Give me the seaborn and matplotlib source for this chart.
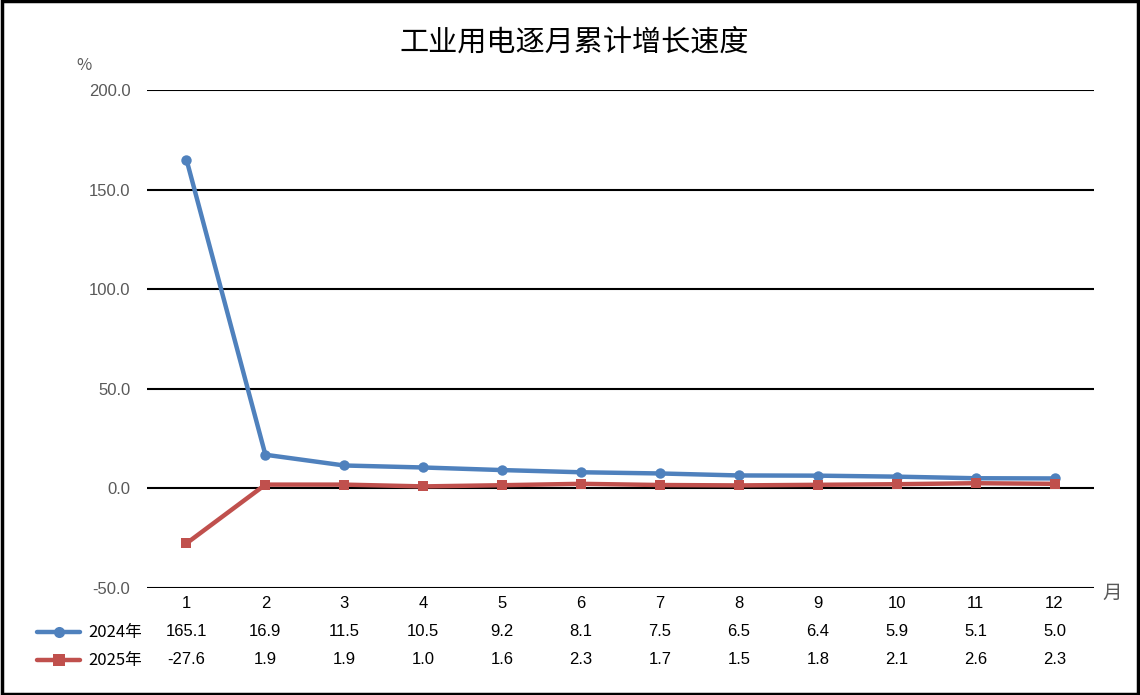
import pandas as pd
import seaborn as sns
import matplotlib.pyplot as plt
import matplotlib.transforms as mtransforms
from matplotlib.lines import Line2D
from matplotlib.patches import Rectangle

months = list(range(1, 13))
vals_2024 = [165.1, 16.9, 11.5, 10.5, 9.2, 8.1, 7.5, 6.5, 6.4, 5.9, 5.1, 5.0]
vals_2025 = [-27.6, 1.9, 1.9, 1.0, 1.6, 2.3, 1.7, 1.5, 1.8, 2.1, 2.6, 2.3]
series_names = ['2024年', '2025年']
colors = {'2024年': '#4F81BD', '2025年': '#C0504D'}
markers = {'2024年': 'o', '2025年': 's'}

df = pd.DataFrame({
    'month': months * 2,
    'value': vals_2024 + vals_2025,
    'series': [series_names[0]] * 12 + [series_names[1]] * 12,
})

sns.set_theme(style='white')
plt.rcParams['font.family'] = ['Noto Sans CJK SC', 'DejaVu Sans']

fig = plt.figure(figsize=(11.4, 6.95), dpi=100)
ax = fig.add_axes([147 / 1140, 1 - 588 / 695, (1094 - 147) / 1140, (588 - 90) / 695])

sns.lineplot(data=df, x='month', y='value', hue='series', style='series',
             palette=colors, markers=markers, dashes=False, linewidth=3.2,
             markersize=7.5, markeredgewidth=0, legend=False, ax=ax, zorder=3)

ax.set_xlim(0.5, 12.5)
ax.set_ylim(-50, 200)
ax.set_yticks([-50, 0, 50, 100, 150, 200])
ax.set_yticklabels([f'{v:.1f}' for v in [-50, 0, 50, 100, 150, 200]],
                   color='#595959', fontsize=12, family=['Liberation Sans', 'DejaVu Sans'])
ax.tick_params(axis='y', length=0, pad=12)
ax.set_xticks([])
ax.set_xlabel('')
ax.set_ylabel('')
for s in ax.spines.values():
    s.set_visible(False)
ax.yaxis.grid(True, color='black', linewidth=1.5)
ax.set_axisbelow(True)

# title and unit labels
fig.text(574 / 1140, 1 - 43 / 695, '工业用电逐月累计增长速度', ha='center', va='center',
         fontsize=21, color='black')
fig.text(84 / 1140, 1 - 66 / 695, '%', ha='center', va='center', fontsize=12, color='#595959')
fig.text(1112 / 1140, 1 - 593 / 695, '月', ha='center', va='center', fontsize=14, color='#595959')

# data table below axis
trans = mtransforms.blended_transform_factory(ax.transData, fig.transFigure)
row_y = [1 - 604 / 695, 1 - 632 / 695, 1 - 660 / 695]
tfont = dict(fontsize=12, color='black', ha='center', va='center',
             family=['Liberation Sans', 'DejaVu Sans'])
for m in months:
    ax.text(m, row_y[0], str(m), transform=trans, **tfont)
for vals, y in zip([vals_2024, vals_2025], row_y[1:]):
    for m, v in zip(months, vals):
        ax.text(m, y, f'{v:.1f}', transform=trans, **tfont)

for name, y in zip(series_names, row_y[1:]):
    fig.add_artist(Line2D([37 / 1140, 80 / 1140], [y, y], color=colors[name], linewidth=3.2,
                          solid_capstyle='round', transform=fig.transFigure))
    fig.add_artist(Line2D([58.5 / 1140], [y], color=colors[name], marker=markers[name],
                          markersize=8, markeredgewidth=0, linestyle='none',
                          transform=fig.transFigure))
    fig.text(88 / 1140, y, name, ha='left', va='center', fontsize=12, color='black')

fig.add_artist(Rectangle((0.0015, 0.002), 0.997, 0.996, transform=fig.transFigure,
                         fill=False, edgecolor='black', linewidth=2.5))

fig.savefig('out.png', dpi=100)
